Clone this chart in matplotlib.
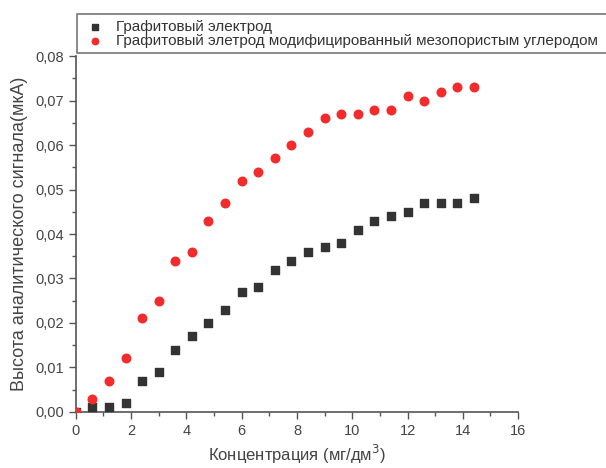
import matplotlib.pyplot as plt
from matplotlib.ticker import MultipleLocator, FuncFormatter

plt.rcParams['font.family'] = ['Liberation Sans', 'DejaVu Sans']

conc = [0, 0.6, 1.2, 1.8, 2.4, 3.0, 3.6, 4.2, 4.8, 5.4, 6.0, 6.6, 7.2,
        7.8, 8.4, 9.0, 9.6, 10.2, 10.8, 11.4, 12.0, 12.6, 13.2, 13.8, 14.4]
graphite = [0.000, 0.001, 0.001, 0.002, 0.007, 0.009, 0.014, 0.017, 0.020,
            0.023, 0.027, 0.028, 0.032, 0.034, 0.036, 0.037, 0.038, 0.041,
            0.043, 0.044, 0.045, 0.047, 0.047, 0.047, 0.048]
modified = [0.000, 0.003, 0.007, 0.012, 0.021, 0.025, 0.034, 0.036, 0.043,
            0.047, 0.052, 0.054, 0.057, 0.060, 0.063, 0.066, 0.067, 0.067,
            0.068, 0.068, 0.071, 0.070, 0.072, 0.073, 0.073]

label1 = "Графитовый электрод"
label2 = "Графитовый элетрод модифицированный мезопористым углеродом"

fig = plt.figure(figsize=(6.06, 4.68), dpi=100)
ax = fig.add_axes([0.125, 0.12, 0.73, 0.76])

ax.scatter(conc, graphite, marker='s', s=38, color='#333333', label=label1, zorder=3)
ax.scatter(conc, modified, marker='o', s=38, color='#f22c2c', label=label2, zorder=4)

ax.set_xlim(0, 16)
ax.set_ylim(0, 0.08)
ax.xaxis.set_major_locator(MultipleLocator(2))
ax.xaxis.set_minor_locator(MultipleLocator(1))
ax.yaxis.set_major_locator(MultipleLocator(0.01))
ax.yaxis.set_minor_locator(MultipleLocator(0.005))
ax.yaxis.set_major_formatter(FuncFormatter(lambda v, p: f"{v:.2f}".replace('.', ',')))

for s in ['top', 'right']:
    ax.spines[s].set_visible(False)
for s in ['left', 'bottom']:
    ax.spines[s].set_color('#555555')
    ax.spines[s].set_linewidth(1.2)
ax.tick_params(which='major', length=5, width=1, color='#555555', labelsize=10.5, labelcolor='#444444')
ax.tick_params(which='minor', length=3, width=1, color='#555555')

ax.set_xlabel("Концентрация (мг/дм$^3$)", fontsize=12, color='#444444')
ax.set_ylabel("Высота аналитического сигнала(мкА)", fontsize=13, color='#444444', labelpad=5)

leg = fig.legend(loc='lower left', bbox_to_anchor=(0.127, 0.887, 0.9, 0.085),
                 mode='expand', fontsize=11, frameon=True, fancybox=False,
                 handletextpad=0.5, borderaxespad=0, labelspacing=0.02,
                 borderpad=0.33, handlelength=1.75, markerscale=0.75)
leg.get_frame().set_edgecolor('#555555')
leg.get_frame().set_linewidth(1.2)
for t in leg.get_texts():
    t.set_color('#333333')

fig.savefig("out.png", dpi=100)
